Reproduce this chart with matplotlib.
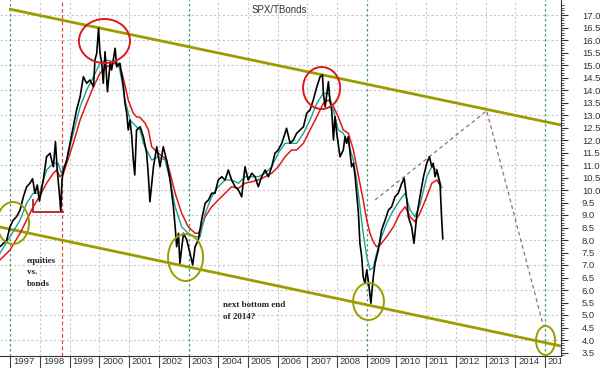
import matplotlib
matplotlib.use("Agg")
import matplotlib.pyplot as plt
from matplotlib.patches import Ellipse
from matplotlib.transforms import ScaledTranslation, TransformedBbox, Bbox

plt.rcParams['font.family'] = ['Liberation Sans', 'DejaVu Sans']

# ---------------- data ----------------
title = "SPX/TBonds"

spx_t = [1996.67, 1996.88, 1996.99, 1997.10, 1997.21, 1997.33, 1997.44, 1997.55, 1997.66, 1997.75,
         1997.83, 1997.91, 1997.98, 1998.11, 1998.22, 1998.34, 1998.39, 1998.45, 1998.52, 1998.58,
         1998.65, 1998.70, 1998.74, 1998.79, 1998.90, 1999.01, 1999.12, 1999.23, 1999.35, 1999.46,
         1999.57, 1999.68, 1999.80, 1999.85, 1999.91, 1999.97, 2000.02, 2000.08, 2000.13, 2000.19,
         2000.27, 2000.36, 2000.41, 2000.53, 2000.58, 2000.69, 2000.75, 2000.81, 2000.86, 2000.92,
         2000.97, 2001.03, 2001.09, 2001.14, 2001.19, 2001.25, 2001.37, 2001.48, 2001.59, 2001.65,
         2001.70, 2001.82, 2001.93, 2002.04, 2002.15, 2002.26, 2002.38, 2002.49, 2002.55, 2002.60,
         2002.66, 2002.71, 2002.83, 2002.94, 2003.05, 2003.14, 2003.22, 2003.33, 2003.44, 2003.56,
         2003.67, 2003.78, 2003.89, 2004.00, 2004.12, 2004.23, 2004.34, 2004.45, 2004.57, 2004.68,
         2004.79, 2004.90, 2005.01, 2005.13, 2005.24, 2005.35, 2005.46, 2005.58, 2005.69, 2005.80,
         2005.91, 2006.02, 2006.14, 2006.25, 2006.30, 2006.42, 2006.53, 2006.64, 2006.87, 2006.98,
         2007.09, 2007.20, 2007.32, 2007.43, 2007.51, 2007.54, 2007.60, 2007.71, 2007.76, 2007.82,
         2007.88, 2007.93, 2007.99, 2008.10, 2008.21, 2008.27, 2008.32, 2008.38, 2008.44, 2008.49,
         2008.55, 2008.61, 2008.66, 2008.72, 2008.77, 2008.83, 2008.88, 2008.94, 2009.00, 2009.05,
         2009.14, 2009.22, 2009.28, 2009.39, 2009.50, 2009.62, 2009.73, 2009.84, 2009.95, 2010.06,
         2010.18, 2010.26, 2010.35, 2010.40, 2010.51, 2010.59, 2010.68, 2010.79, 2010.91, 2011.02,
         2011.11, 2011.19, 2011.24, 2011.30, 2011.36, 2011.47, 2011.52, 2011.56]
spx_v = [7.75, 8.00, 8.53, 8.80, 8.93, 9.20, 9.73, 10.13, 10.27, 10.45,
         9.87, 10.20, 9.55, 10.40, 11.33, 11.47, 11.20, 10.93, 11.93, 10.80,
         9.90, 9.13, 10.40, 10.80, 11.20, 11.87, 12.53, 13.20, 13.73, 14.53,
         14.27, 14.40, 14.13, 15.20, 15.47, 16.47, 15.47, 15.07, 14.27, 15.53,
         13.93, 15.07, 14.80, 15.67, 14.93, 15.07, 14.60, 14.13, 13.47, 13.07,
         12.40, 12.80, 12.13, 11.20, 10.60, 12.40, 12.53, 12.13, 11.47, 10.53,
         9.53, 10.93, 11.73, 10.93, 11.73, 11.20, 10.40, 9.33, 8.53, 7.73,
         8.27, 7.07, 8.27, 8.00, 7.47, 7.00, 7.73, 8.00, 8.80, 9.47,
         9.60, 9.87, 9.87, 10.40, 10.53, 10.40, 10.80, 10.40, 10.13, 10.00,
         9.73, 10.93, 10.40, 10.67, 10.53, 10.13, 10.53, 10.80, 10.53, 10.93,
         11.47, 11.60, 11.87, 12.27, 12.47, 11.87, 12.00, 12.27, 12.53, 13.07,
         13.20, 13.60, 14.13, 14.53, 14.60, 13.87, 13.33, 14.33, 13.60, 13.20,
         12.00, 12.93, 12.27, 11.33, 11.60, 12.13, 11.87, 12.13, 11.47, 10.93,
         11.07, 10.53, 9.87, 9.07, 7.87, 7.33, 6.53, 6.27, 6.80, 6.40,
         5.47, 6.53, 7.07, 7.60, 8.40, 8.80, 9.20, 9.33, 9.73, 9.87,
         10.27, 10.47, 9.60, 8.93, 8.53, 7.87, 8.93, 9.73, 10.53, 11.07,
         11.33, 10.93, 11.07, 10.53, 10.80, 10.20, 8.90, 8.05]

fast_t = [1996.65, 1996.99, 1997.33, 1997.55, 1997.77, 1997.98, 1998.22, 1998.45, 1998.61, 1998.72,
          1998.90, 1999.12, 1999.35, 1999.57, 1999.80, 2000.02, 2000.25, 2000.47, 2000.64, 2000.75,
          2000.86, 2001.03, 2001.25, 2001.37, 2001.48, 2001.59, 2001.76, 2001.98, 2002.21, 2002.38,
          2002.55, 2002.77, 2002.99, 2003.22, 2003.39, 2003.56, 2003.78, 2004.00, 2004.23, 2004.45,
          2004.68, 2004.90, 2005.13, 2005.35, 2005.58, 2005.80, 2006.02, 2006.25, 2006.47, 2006.64,
          2006.87, 2007.09, 2007.32, 2007.54, 2007.71, 2007.88, 2008.04, 2008.21, 2008.38, 2008.55,
          2008.66, 2008.77, 2008.88, 2009.00, 2009.11, 2009.22, 2009.33, 2009.50, 2009.67, 2009.90,
          2010.12, 2010.29, 2010.46, 2010.62, 2010.79, 2011.02, 2011.19, 2011.36, 2011.52]
fast_v = [7.47, 8.13, 8.80, 9.47, 9.87, 9.87, 10.80, 11.07, 11.07, 10.67,
          11.20, 12.27, 13.33, 14.00, 14.53, 15.07, 15.20, 15.13, 15.07, 14.40,
          13.60, 12.80, 12.53, 12.40, 11.87, 11.60, 11.20, 11.33, 11.20, 10.40,
          9.33, 8.53, 8.27, 8.13, 8.13, 9.07, 9.73, 10.13, 10.40, 10.40,
          10.27, 10.53, 10.53, 10.53, 10.67, 10.93, 11.47, 11.87, 11.87, 11.87,
          12.27, 12.80, 13.47, 13.87, 13.87, 13.20, 12.40, 12.27, 11.87, 11.20,
          10.40, 9.33, 8.27, 7.33, 6.80, 6.90, 7.47, 8.13, 8.67, 9.20,
          9.60, 9.87, 9.20, 8.93, 9.40, 10.53, 10.93, 10.80, 10.10]

slow_t = [1996.65, 1996.99, 1997.33, 1997.55, 1997.77, 1997.98, 1998.22, 1998.45, 1998.56, 1998.67,
          1998.79, 1998.90, 1999.12, 1999.35, 1999.57, 1999.80, 2000.02, 2000.25, 2000.47, 2000.64,
          2000.75, 2000.86, 2000.97, 2001.14, 2001.25, 2001.37, 2001.54, 2001.65, 2001.76, 2001.98,
          2002.15, 2002.26, 2002.38, 2002.55, 2002.77, 2002.99, 2003.22, 2003.33, 2003.44, 2003.56,
          2003.78, 2004.00, 2004.23, 2004.45, 2004.68, 2004.90, 2005.13, 2005.35, 2005.58, 2005.80,
          2006.02, 2006.25, 2006.47, 2006.64, 2006.87, 2007.09, 2007.32, 2007.54, 2007.71, 2007.88,
          2008.04, 2008.21, 2008.38, 2008.55, 2008.66, 2008.77, 2008.88, 2009.00, 2009.11, 2009.22,
          2009.33, 2009.45, 2009.67, 2009.90, 2010.12, 2010.29, 2010.46, 2010.62, 2010.79, 2011.02,
          2011.19, 2011.36, 2011.52]
slow_v = [7.20, 7.60, 8.27, 8.80, 9.33, 9.73, 10.27, 10.67, 10.80, 10.53,
          10.67, 11.07, 11.87, 12.80, 13.47, 14.13, 14.67, 14.93, 15.07, 15.00,
          14.73, 14.20, 13.60, 13.07, 12.93, 12.90, 12.67, 12.40, 11.73, 11.47,
          11.33, 11.20, 10.67, 9.87, 9.07, 8.53, 8.27, 8.27, 8.53, 8.93,
          9.33, 9.60, 9.87, 10.13, 10.07, 10.27, 10.33, 10.40, 10.53, 10.67,
          10.93, 11.33, 11.60, 11.60, 11.87, 12.40, 12.93, 13.47, 13.60, 13.33,
          12.93, 12.40, 12.27, 11.60, 10.93, 10.27, 9.60, 8.80, 8.27, 7.93,
          7.73, 7.80, 8.13, 8.53, 9.07, 9.33, 8.93, 8.73, 9.07, 9.73,
          10.27, 10.40, 10.10]

upper_channel_t = [1997.00, 2015.54]
upper_channel_v = [17.23, 12.60]
lower_channel_t = [1996.65, 2015.54]
lower_channel_v = [8.52, 3.76]

projection_t = [2009.28, 2013.04, 2014.95]
projection_v = [9.60, 13.17, 4.55]

support_t = [1997.76, 1997.76, 1998.77]
support_v = [9.60, 9.13, 9.13]

red_circles = [(2000.17, 15.96, 1.72, 1.76), (2007.48, 14.08, 1.25, 1.68)]
olive_circles = [(1997.09, 8.68, 1.08, 1.68), (2002.90, 7.30, 1.18, 1.88),
                 (2009.06, 5.54, 1.04, 1.48), (2015.02, 3.98, 0.64, 1.16)]

years = list(range(1997, 2016))
green_marks = [1997, 2003, 2009, 2015]
red_mark = [1998.75]

notes = [("equities", 1997.56, 7.17), ("vs.", 1997.56, 6.70), ("bonds", 1997.56, 6.26),
         ("next bottom end", 2004.16, 5.40), ("of 2014?", 2004.16, 4.92)]

# ---------------- drawing ----------------
fig = plt.figure(figsize=(6.0, 3.68), dpi=100)
ax = fig.add_axes([0.0, 12 / 368, 561 / 600, 356 / 368])
ax.set_xlim(1996.653, 2015.54)
ax.set_ylim(3.36, 17.6)

# grid
for y in range(4, 18):
    ax.axhline(y, color='#c8c8c8', lw=0.8, ls=(0, (2, 2)), zorder=0)
for yr in years:
    if yr not in green_marks:
        ax.axvline(yr, color='#c8c8c8', lw=0.8, ls=(0, (2, 2)), zorder=0)
for yr in green_marks:
    ax.axvline(yr, color='#4a9a6a', lw=0.9, ls=(0, (2, 2)), zorder=1)
for yr in red_mark:
    ax.axvline(yr, color='#e04848', lw=0.9, ls=(0, (3, 2)), zorder=1)

# channel
ax.plot(upper_channel_t, upper_channel_v, color='#9c9c00', lw=2.0, zorder=3)
ax.plot(lower_channel_t, lower_channel_v, color='#9c9c00', lw=2.0, zorder=3)

# series
ax.plot(slow_t, slow_v, color='#e01818', lw=1.1, zorder=4)
ax.plot(fast_t, fast_v, color='#1f9f95', lw=1.0, zorder=5)
ax.plot(spx_t, spx_v, color='black', lw=1.2, zorder=6)

ax.plot(support_t, support_v, color='#b02020', lw=1.3, zorder=6)
ax.plot(projection_t, projection_v, color='#9a6a7a', lw=0.9, ls=(0, (3, 2.5)), zorder=3)

for cx, cy, w, h in red_circles:
    ax.add_patch(Ellipse((cx, cy), w, h, fill=False, ec='#e01818', lw=1.4, zorder=7))
for cx, cy, w, h in olive_circles:
    ax.add_patch(Ellipse((cx, cy), w, h, fill=False, ec='#9c9c00', lw=1.4, zorder=7))

for txt, tx, ty in notes:
    ax.text(tx, ty, txt, fontsize=6.5, fontweight='bold', color='#222222',
            family=['Liberation Serif', 'DejaVu Serif'], va='center', ha='left', zorder=8)

ax.text(0.497, 0.985, title, transform=ax.transAxes, fontsize=7, color='#333333',
        ha='center', va='top')

# axes styling
for side in ('left', 'top'):
    ax.spines[side].set_visible(False)
ax.spines['right'].set_color('#333333')
ax.spines['bottom'].set_color('#333333')
ax.spines['right'].set_linewidth(0.8)
ax.spines['bottom'].set_linewidth(0.8)

yt = [3.5 + 0.5 * i for i in range(28)]
ax.yaxis.tick_right()
ax.set_yticks(yt)
ax.set_yticklabels([f"{v:.1f}" for v in yt])
ax.set_yticks([3.4 + 0.1 * i for i in range(142) if round((3.4 + 0.1 * i) * 10) % 5 != 0], minor=True)
ax.tick_params(axis='y', which='major', length=5, width=0.8, color='#333333',
               labelsize=6.8, labelcolor='#333333', pad=10, left=False, right=True)
ax.tick_params(axis='y', which='minor', length=2.5, width=0.6, color='#333333', left=False, right=True)

ax.set_xticks(years)
ax.set_xticklabels([str(y) for y in years])
ax.tick_params(axis='x', which='major', length=9, width=0.8, color='#444444',
               labelsize=6.8, labelcolor='#333333', pad=-8)
clip = TransformedBbox(Bbox([[0, 0], [561 / 600, 1]]), fig.transFigure)
off = ScaledTranslation(2 / 72, 0, fig.dpi_scale_trans)
for lab in ax.get_xticklabels():
    lab.set_ha('left')
    lab.set_va('top')
    lab.set_transform(lab.get_transform() + off)
    lab.set_clip_box(clip)
    lab.set_clip_on(True)

fig.savefig("out.png", dpi=100, facecolor='white')
